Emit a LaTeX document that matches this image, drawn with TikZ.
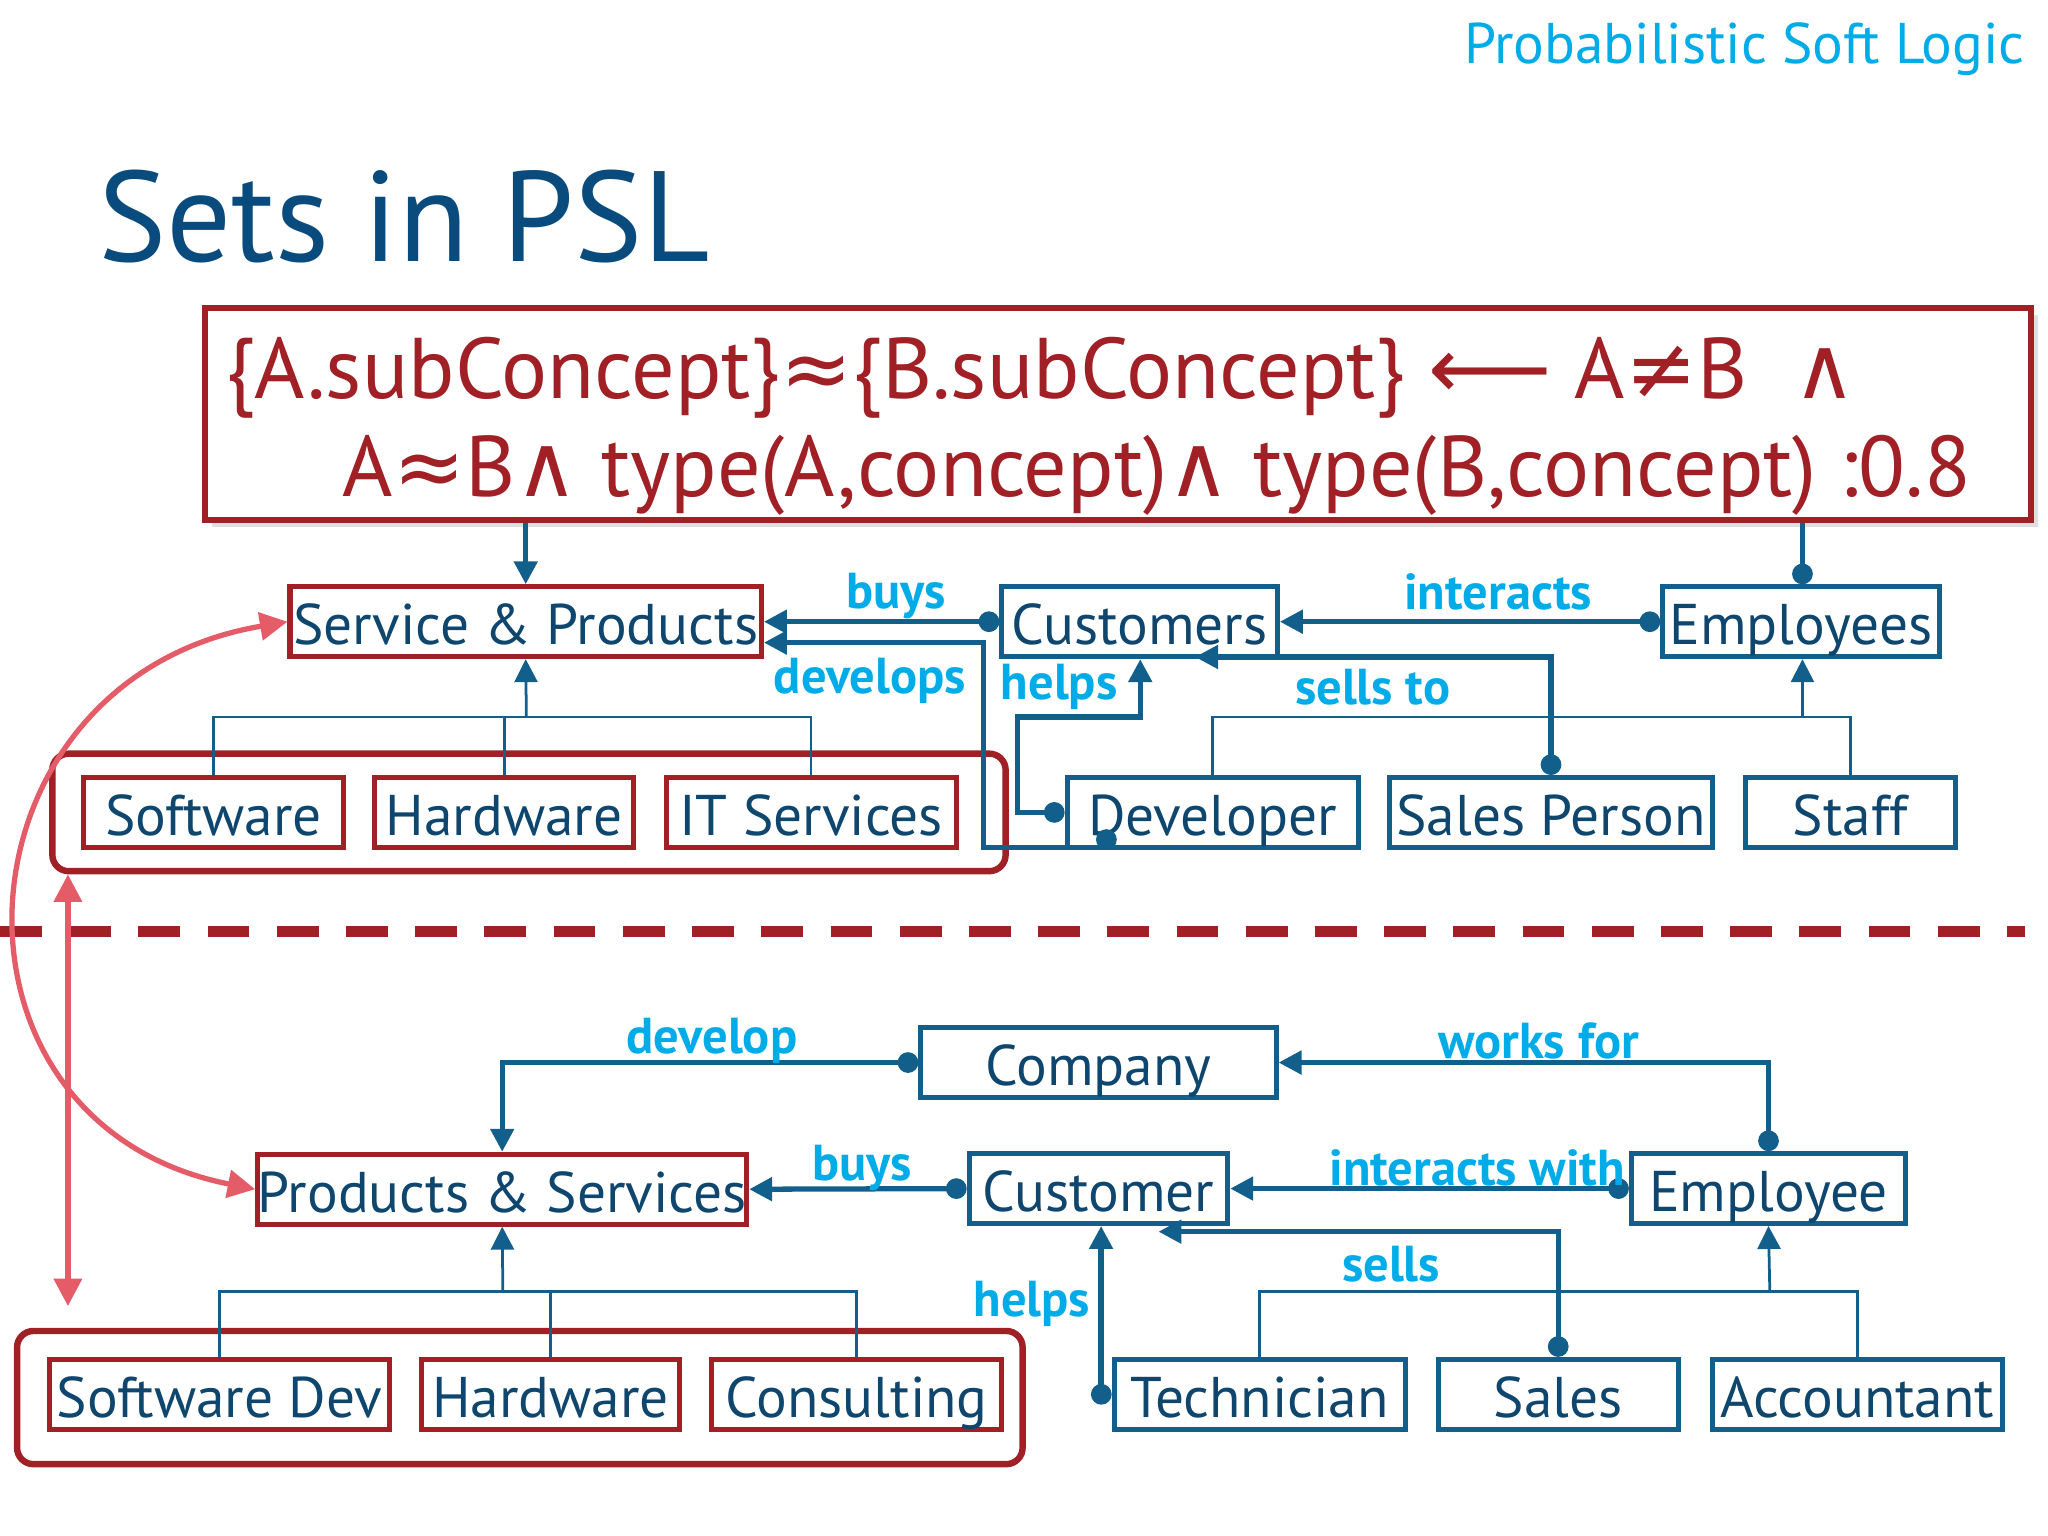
\documentclass[tikz,border=0pt]{standalone}
\usepackage{fontspec}
\setmainfont{PT Sans}
\newfontfamily\djv{DejaVu Sans}
\usetikzlibrary{arrows.meta,calc,shadows}
\definecolor{bblue}{RGB}{18,95,140}
\definecolor{tblue}{RGB}{15,70,110}
\definecolor{dred}{RGB}{160,32,38}
\definecolor{cyan1}{RGB}{0,172,232}
\definecolor{pinkr}{RGB}{228,92,104}
\definecolor{ttl}{RGB}{10,75,125}
\newcommand{\sy}[1]{{\djv #1}}
\begin{document}
\begin{tikzpicture}[x=0.02cm,y=-0.02cm,
 bx/.style={draw=bblue,line width=2.2pt,inner sep=0pt,minimum height=1.07cm,text=tblue,font=\fontsize{25}{28}\selectfont,text height=0.75cm,text depth=0.05cm},
 rx/.style={bx,draw=dred},
 conn/.style={draw=bblue,line width=2.3pt,{Circle[length=9pt]}-{Triangle[length=10pt,width=10pt]}},
 arr/.style={draw=bblue,line width=2.3pt,-{Triangle[length=10pt,width=10pt]}},
 thinl/.style={draw=bblue,line width=1.2pt},
 lbl/.style={text=cyan1,font=\fontsize{22}{24}\selectfont\bfseries,inner sep=0pt},
 grp/.style={draw=dred,line width=2.8pt,rounded corners=0.25cm,inner sep=0pt}]
\useasboundingbox (0,0) rectangle (1568,1176);
\node[anchor=east,text=cyan1,font=\fontsize{25}{27}\selectfont] (hdr) at (1556,38) {Probabilistic Soft Logic};
\node[anchor=base west,text=ttl,font=\fontsize{56}{60}\selectfont,inner sep=0pt] (ttl) at (75,200) {Sets in PSL};
% formula
\node[draw=dred,line width=2.8pt,fill=white,drop shadow={opacity=0.25,shadow xshift=3pt,shadow yshift=-3pt},minimum width=27.96cm,minimum height=3.24cm,inner sep=0pt] (frm) at (856,317) {};
\node[anchor=base west,text=dred,font=\fontsize{37.5}{42}\selectfont,inner sep=0pt] (f1) at (172,305) {\{A.subConcept\}\sy{≈}\{B.subConcept\} \sy{⟵} A\sy{≠}B \ \sy{∧}};
\node[anchor=base west,text=dred,font=\fontsize{37.5}{42}\selectfont,inner sep=0pt] (f2) at (262,380) {A\sy{≈}B\sy{∧} type(A,concept)\sy{∧} type(B,concept) :0.8};
% top nodes
\node[rx,minimum width=7.22cm] (svc) at (402.5,476) {Service \& Products};
\node[bx,minimum width=4.22cm] (cus) at (872.5,476) {Customers};
\node[bx,minimum width=4.24cm] (emp) at (1379,476) {Employees};
\node[rx,minimum width=3.98cm] (sw) at (163.5,622) {Software};
\node[rx,minimum width=3.96cm] (hw) at (386,622) {Hardware};
\node[rx,minimum width=4.44cm] (it) at (621,622) {IT Services};
\node[bx,minimum width=4.46cm] (dev) at (928.5,622) {Developer};
\node[bx,minimum width=4.94cm] (sp) at (1187.5,622) {Sales Person};
\node[bx,minimum width=3.22cm] (st) at (1416.5,622) {Staff};
\node[grp,minimum width=14.6cm,minimum height=1.8cm] (g1) at (405,622) {};
% bottom nodes
\node[bx,minimum width=5.44cm] (com) at (841,813.5) {Company};
\node[rx,minimum width=7.42cm] (prd) at (384.5,910.5) {Products \& Services};
\node[bx,minimum width=3.96cm] (cu2) at (841,910) {Customer};
\node[bx,minimum width=4.2cm] (em2) at (1354,910) {Employee};
\node[rx,minimum width=5.2cm] (sd) at (168,1067.5) {Software Dev};
\node[rx,minimum width=3.94cm] (hw2) at (421.5,1067.5) {Hardware};
\node[rx,minimum width=4.44cm] (cons) at (656,1067.5) {Consulting};
\node[bx,minimum width=4.46cm] (tec) at (964.5,1067.5) {Technician};
\node[bx,minimum width=3.68cm] (sal) at (1193,1067.5) {Sales};
\node[bx,minimum width=4.44cm] (acc) at (1422,1067.5) {Accountant};
\node[grp,minimum width=15.4cm,minimum height=2.04cm] (g2) at (398,1070) {};
% dashed separator
\coordinate (dl) at (0,713); \coordinate (dr) at (1550,713);
\draw[dred,line width=5pt,dash pattern=on 0.64cm off 0.42cm] (dl) -- (dr);
% top connectors
\draw[arr] (frm.south -| svc.north) -- (svc.north);
\draw[draw=bblue,line width=2.3pt,-{Circle[length=9pt]}] (frm.south -| 1380,0) -- (emp.north -| 1380,0);
\draw[conn] (cus.west) -- (svc.east);
\draw[conn] (emp.west) -- (cus.east);
\draw[conn] ($(dev.south west)+(32,0)$) -- ++(0,-2) -| (753,492) -- (svc.east |- 0,492);
\draw[conn] (dev.west) -| (779,549) -| (cus.south -| 873,0);
\draw[conn] (sp.north) -- (sp.north |- 0,503) -- (915,503);
\coordinate (h1) at (403,549);
\draw[thinl] (sw.north) |- (h1) -| (it.north);
\draw[thinl] (hw.north) -- (hw.north |- h1);
\draw[arr,line width=1.2pt] (h1) -- (svc.south);
\coordinate (h2) at (1380,549);
\draw[thinl] (dev.north) |- (h2) -| (st.north);
\draw[arr,line width=1.2pt] (h2) -- (emp.south -| h2);
\node[lbl] (l1) at (686,456) {buys};
\node[lbl] (l2) at (666,521) {develops};
\node[lbl] (l3) at (1147,453) {interacts};
\node[lbl] (l4) at (811,526) {helps};
\node[lbl] (l5) at (1051,526) {sells to};
% bottom connectors
\draw[conn] (com.west) -| (prd.north);
\draw[conn] (em2.north) |- (com.east);
\draw[conn] (cu2.west) -- (prd.east);
\draw[conn] (em2.west) -- (cu2.east);
\draw[conn] (sal.north) |- (887,943);
\draw[conn] (tec.west) -| (cu2.south -| 843,0);
\coordinate (h3) at (385,989);
\draw[thinl] (sd.north) |- (h3) -| (cons.north);
\draw[thinl] (hw2.north) -- (hw2.north |- h3);
\draw[arr,line width=1.2pt] (h3) -- (prd.south);
\coordinate (h4) at (1355,989);
\draw[thinl] (tec.north) |- (h4) -| (acc.north);
\draw[arr,line width=1.2pt] (h4) -- (em2.south);
\node[lbl] (m1) at (545,797) {develop};
\node[lbl] (m2) at (1178,797) {works for};
\node[lbl] (m3) at (660,894) {buys};
\node[lbl] (m4) at (1131,894) {interacts with};
\node[lbl] (m5) at (1065,968) {sells};
\node[lbl] (m6) at (790,998) {helps};
% pink arrows
\draw[pinkr,line width=2.3pt,{Triangle[length=12pt,width=12pt]}-{Triangle[length=12pt,width=12pt]}] (prd.west) .. controls (-60,860) and (-40,520) .. (svc.west);
\coordinate (pb) at (52,1000);
\draw[pinkr,line width=2.3pt,{Triangle[length=12pt,width=12pt]}-{Triangle[length=12pt,width=12pt]}] (g1.south west -| pb) -- (pb);
\end{tikzpicture}
\end{document}
